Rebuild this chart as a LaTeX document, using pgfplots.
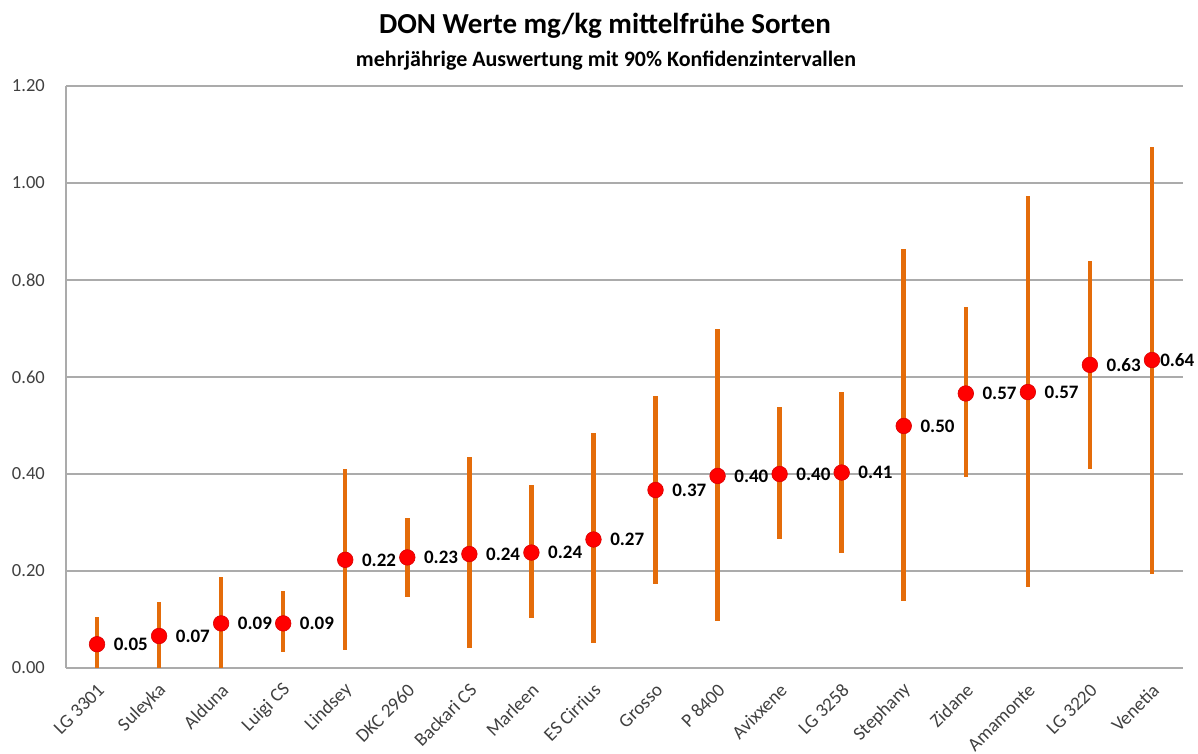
\documentclass[border=0pt]{standalone}
\usepackage{fontspec}
\setmainfont{Carlito}
\usepackage{pgfplots}
\usepackage{pgfplotstable}
\pgfplotsset{compat=1.18}
\definecolor{barorange}{HTML}{E46C0A}
\definecolor{dotred}{HTML}{FF0000}
\definecolor{gridgray}{HTML}{ABABAB}
\definecolor{ticktxt}{HTML}{404040}

\pgfplotstableread{
x y lo hi lab dx
0 0.049 0.000 0.106 0.05 16.5
1 0.066 0.000 0.137 0.07 16.5
2 0.092 0.000 0.187 0.09 16.5
3 0.092 0.032 0.159 0.09 16.5
4 0.223 0.037 0.410 0.22 16.5
5 0.228 0.146 0.310 0.23 16.5
6 0.235 0.041 0.436 0.24 16.5
7 0.238 0.104 0.377 0.24 16.5
8 0.265 0.051 0.485 0.27 16.5
9 0.367 0.174 0.561 0.37 16.5
10 0.396 0.096 0.698 0.40 16.5
11 0.400 0.267 0.538 0.40 16.5
12 0.403 0.238 0.569 0.41 16.5
13 0.499 0.138 0.863 0.50 16.5
14 0.566 0.393 0.745 0.57 16.5
15 0.569 0.166 0.974 0.57 16.5
16 0.625 0.411 0.840 0.63 16.5
17 0.635 0.194 1.075 0.64 8
}\datatab

\begin{document}
\begin{tikzpicture}
\begin{axis}[
  name=ax, at={(0,0)}, anchor=south west,
  scale only axis, width=1117pt, height=582pt,
  xmin=-0.5, xmax=17.5, ymin=0, ymax=1.2,
  xtick={0,...,17},
  xticklabels={LG 3301,Suleyka,Alduna,Luigi CS,Lindsey,DKC 2960,Backari CS,Marleen,ES Cirrius,Grosso,P 8400,Avixxene,LG 3258,Stephany,Zidane,Amamonte,LG 3220,Venetia},
  ytick={0,0.2,0.4,0.6,0.8,1.0,1.2},
  yticklabel style={/pgf/number format/fixed, /pgf/number format/fixed zerofill, /pgf/number format/precision=2, anchor=east, inner sep=0pt, xshift=-21pt, font=\fontsize{18.5}{20}\selectfont},
  /pgf/number format/assume math mode=true,
  ymajorgrids, grid style={gridgray, line width=1.5pt},
  axis x line*=bottom, axis y line*=left,
  axis line style={gridgray, line width=1.5pt, -},
  major tick length=0pt,
  tick label style={text=ticktxt},
  xticklabel style={xshift=4pt, yshift=-19pt, rotate=45, anchor=east, inner sep=0pt, font=\fontsize{19}{21}\selectfont},
  clip=true,
]
\addplot[draw=none, mark=none, forget plot,
  error bars/.cd, y dir=both, y explicit, error mark=none,
  error bar style={draw=barorange, line width=4.5pt}]
  table[x=x, y=y, y error plus expr=\thisrow{hi}-\thisrow{y}, y error minus expr=\thisrow{y}-\thisrow{lo}] {\datatab};
\addplot[only marks, mark=*, mark size=7.8pt,
  mark options={fill=dotred, draw=dotred!85!black, line width=0.6pt},
  visualization depends on={\thisrow{dx} \as \dxv},
  nodes near coords, point meta=explicit symbolic,
  nodes near coords style={anchor=west, xshift=\dxv pt, inner sep=0pt, font=\bfseries\fontsize{19}{21}\selectfont, text=black}]
  table[x=x, y=y, meta=lab] {\datatab};
\end{axis}
\pgfresetboundingbox
\path[use as bounding box] (-66pt,-86pt) rectangle (1132pt,668pt);
\node[anchor=base, font=\bfseries\fontsize{29}{34}\selectfont] at (539pt,634pt) {DON Werte mg/kg mittelfrühe Sorten};
\node[anchor=base, font=\bfseries\fontsize{22}{26}\selectfont] at (540pt,601pt) {mehrjährige Auswertung mit 90\% Konfidenzintervallen};
\end{tikzpicture}
\end{document}
